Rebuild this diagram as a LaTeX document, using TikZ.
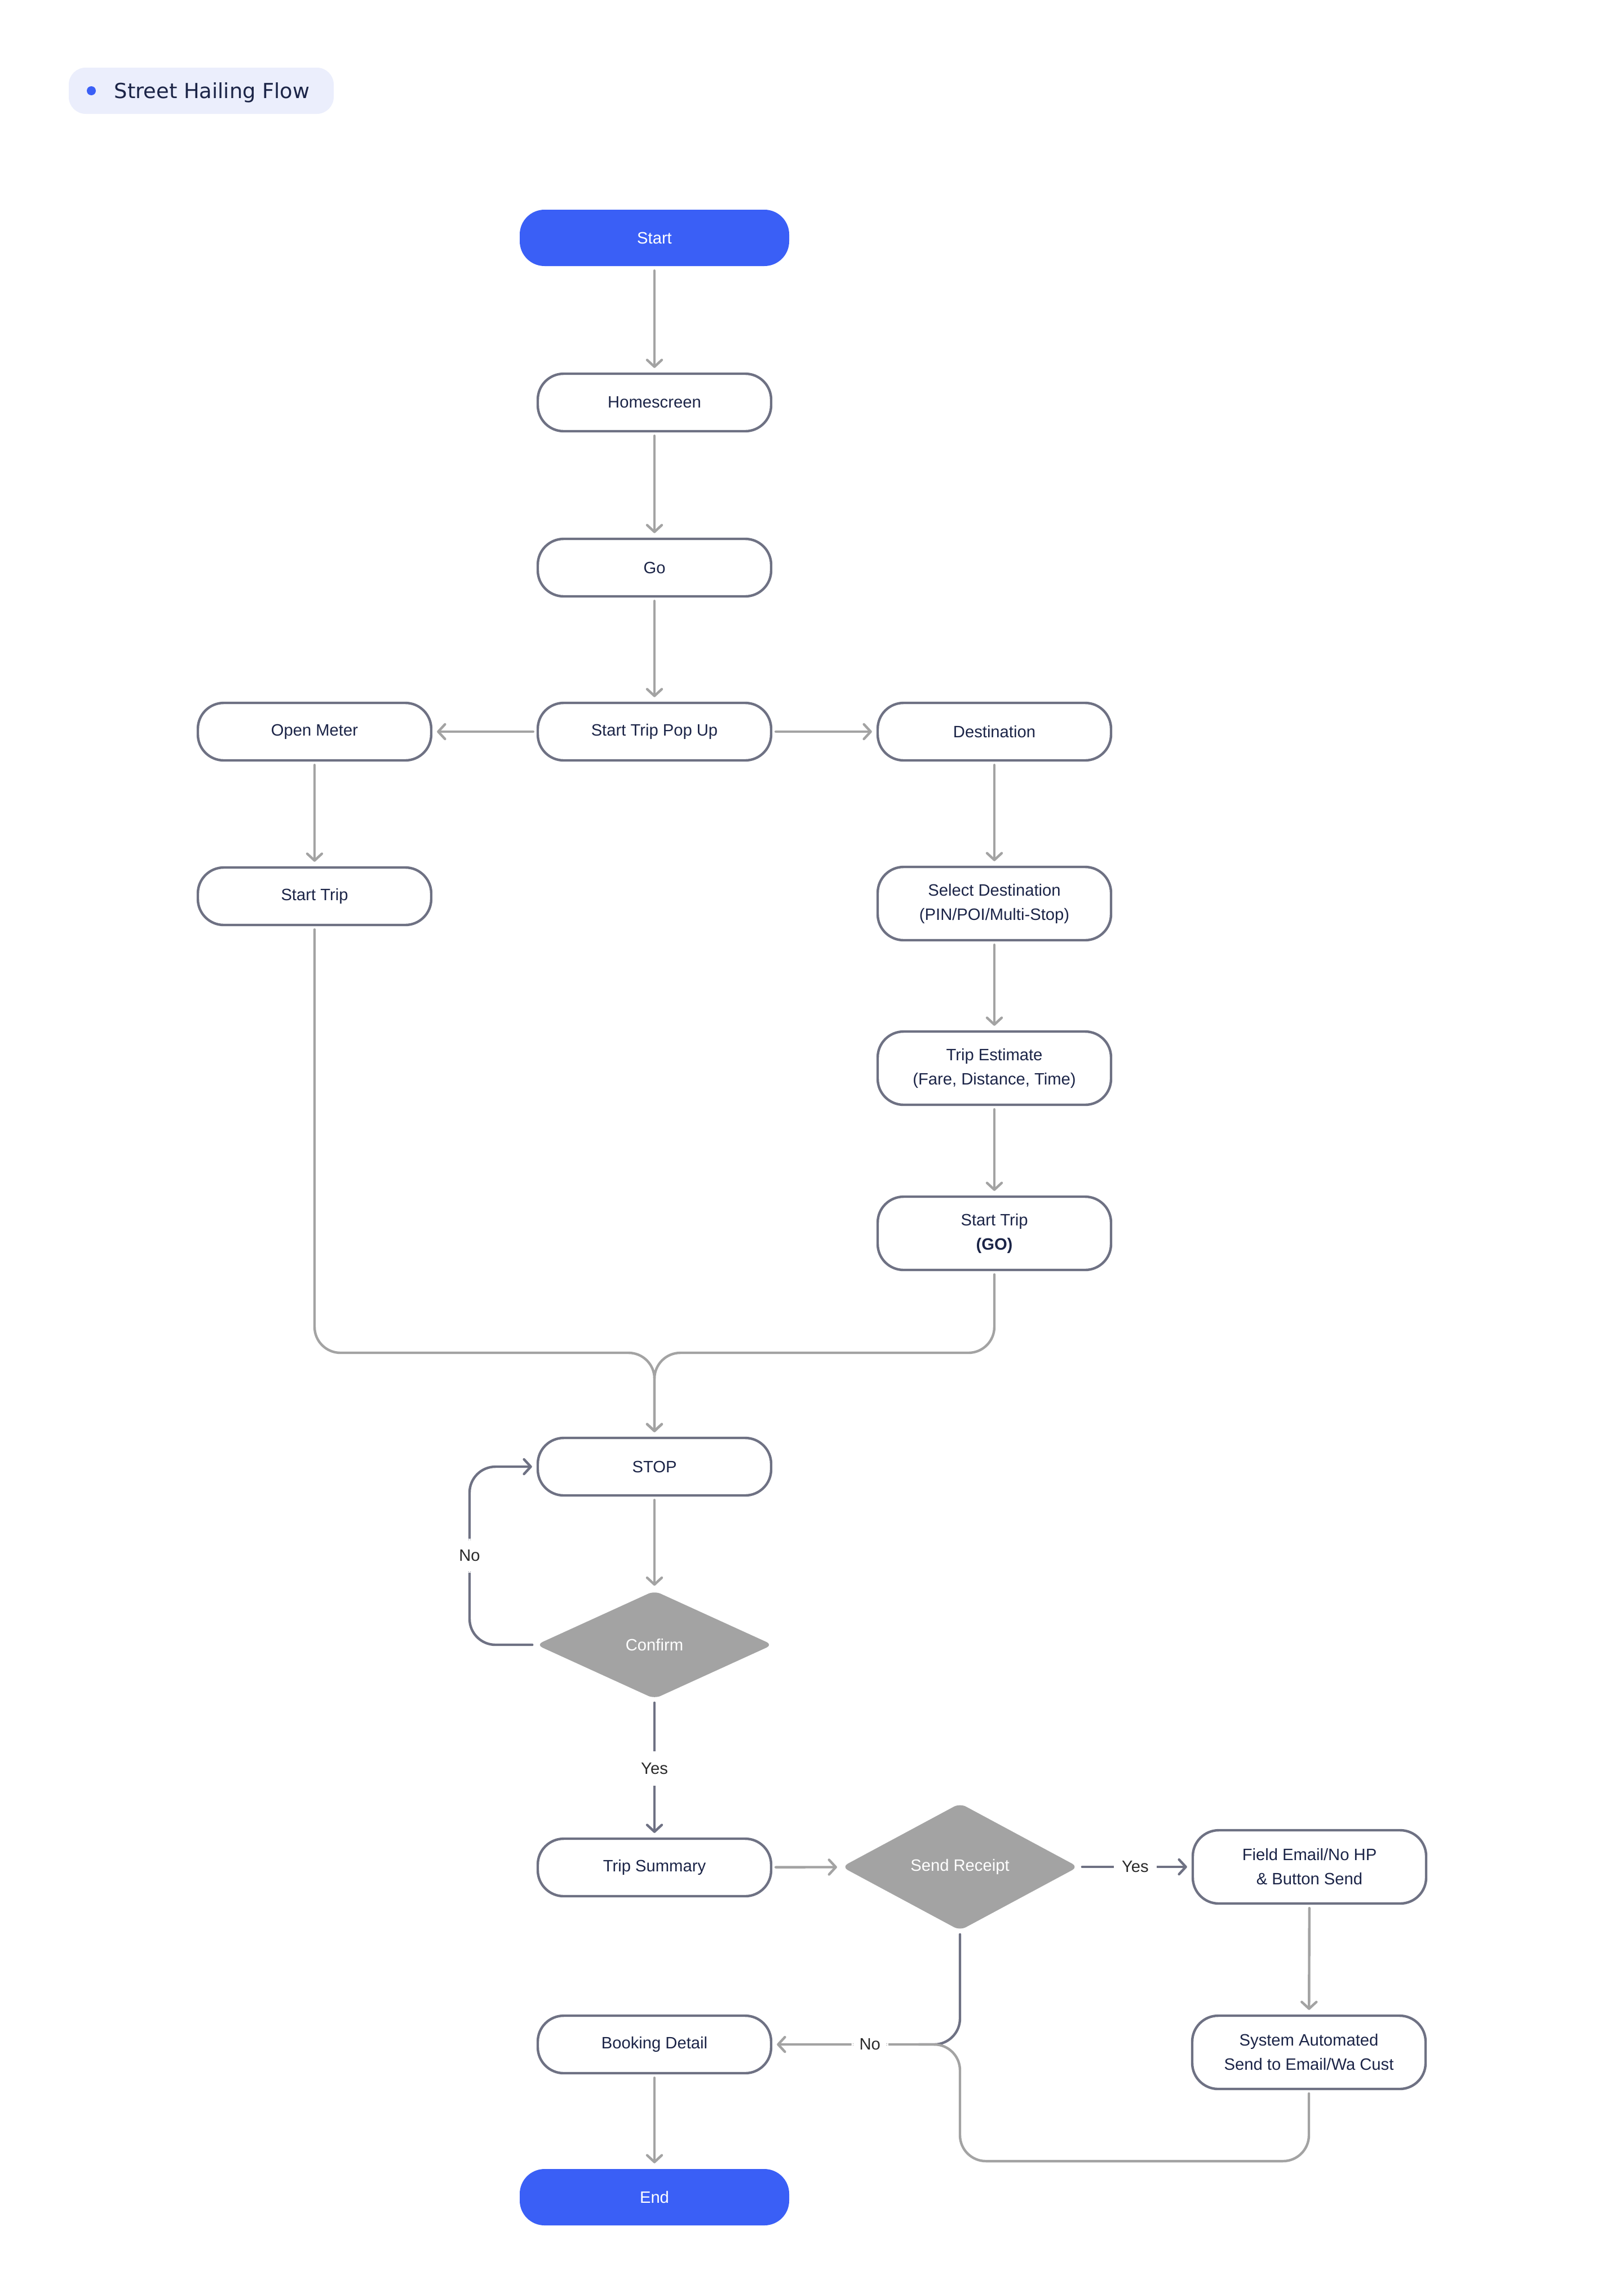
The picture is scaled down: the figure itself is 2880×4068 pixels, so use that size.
\documentclass[tikz,border=0pt]{standalone}
\usepackage{fontspec}
\setmainfont{Liberation Sans}
\newfontfamily\titlefont{DejaVu Sans}
\usetikzlibrary{arrows.meta,shapes.geometric,calc}
\definecolor{blu}{HTML}{3A5FF6}
\definecolor{navy}{HTML}{1B2447}
\definecolor{bord}{HTML}{6E7183}
\definecolor{lgray}{HTML}{A3A3A3}
\definecolor{pillc}{HTML}{EBEEFC}
\definecolor{lbltxt}{HTML}{2A2A2A}
\begin{document}
\begin{tikzpicture}[x=0.25pt,y=-0.25pt,
  box/.style={draw=bord, line width=1.1pt, rounded corners=11.5pt, minimum width=103.5pt,
    minimum height=25.5pt, inner sep=0pt, align=center, text=navy, fill=white,
    font=\fontsize{7.3}{10.75}\selectfont},
  tall/.style={box, minimum height=32.5pt},
  term/.style={box, draw=none, fill=blu, text=white, minimum width=119.5pt, minimum height=25pt, rounded corners=11pt},
  dec/.style={diamond, aspect=2, fill=lgray, draw=none, text=white, inner sep=0pt,
    rounded corners=3pt, minimum width=105pt, font=\fontsize{7.3}{10.75}\selectfont},
  conn/.style={draw=lgray, line width=1.1pt, line cap=round, line join=round,
    -{Straight Barb[length=3pt,width=6.5pt,line cap=round,line join=round]},
    shorten <=1.5pt, shorten >=2pt},
  dconn/.style={conn, draw=bord},
  lbl/.style={fill=white, text=lbltxt, inner xsep=3.5pt, inner ysep=5pt,
    font=\fontsize{7.3}{9}\selectfont}
]
\useasboundingbox (0,0) rectangle (2880,4068);
\fill[white] (0,0) rectangle (2880,4068);

% title pill
\fill[pillc, rounded corners=7.5pt] (122,120) rectangle (592,202);
\fill[blu] (162,161) circle (2pt);
\node[anchor=base west, inner sep=0pt, text=navy, font=\titlefont\fontsize{9.2}{11}\selectfont] (title) at (202,174) {Street Hailing Flow};

% nodes
\node[term] (start) at (1161,422) {Start};
\node[box] (home) at (1161,714) {Homescreen};
\node[box] (go) at (1161,1007) {Go};
\node[box] (popup) at (1161,1298) {Start Trip Pop Up};
\node[box] (openm) at (558,1298) {Open Meter};
\node[box] (dest) at (1764,1298) {Destination};
\node[box] (stl) at (558,1590) {Start Trip};
\node[tall] (seld) at (1764,1603) {Select Destination\\(PIN/POI/Multi-Stop)};
\node[tall] (est) at (1764,1895) {Trip Estimate\\(Fare, Distance, Time)};
\node[tall] (go2) at (1764,2188) {Start Trip\\\textbf{(GO)}};
\coordinate (mrg) at (1161,2400);
\node[box] (stop) at (1161,2602) {STOP};
\node[dec, minimum height=48pt] (confirm) at (1161,2918) {Confirm};
\coordinate (lp) at (833,2760);
\node[box] (tsum) at (1161,3313) {Trip Summary};
\node[dec, minimum height=56.5pt] (send) at (1703,3312) {Send Receipt};
\node[tall] (field) at (2323,3312) {Field Email/No HP\\\& Button Send};
\node[tall] (sys) at (2322,3641) {System Automated\\Send to Email/Wa Cust};
\node[box] (book) at (1161,3627) {Booking Detail};
\node[term] (endn) at (1161,3898) {End};
\coordinate (nj) at (1630,3627);
\coordinate (bl) at (1703,3834);

% connectors
\draw[conn] (start) -- (home);
\draw[conn] (home) -- (go);
\draw[conn] (go) -- (popup);
\draw[conn] (popup) -- (openm);
\draw[conn] (popup) -- (dest);
\draw[conn] (openm) -- (stl);
\draw[conn] (dest) -- (seld);
\draw[conn] (seld) -- (est);
\draw[conn] (est) -- (go2);
\draw[conn, rounded corners=11.5pt] (stl.south) -- (stl.south |- mrg) -- (mrg) -- (stop.north);
\draw[conn, rounded corners=11.5pt] (go2.south) -- (go2.south |- mrg) -- (mrg) -- (stop.north);
\draw[conn] (stop) -- (confirm);
\draw[dconn, rounded corners=11.5pt] (confirm.west) -- (confirm.west -| lp) -- node[lbl]{No} (stop.west -| lp) -- (stop.west);
\draw[dconn] (confirm) -- node[lbl]{Yes} (tsum);
\draw[conn] (tsum) -- (send);
\draw[dconn] (send) -- node[lbl]{Yes} (field);
\draw[conn] (field) -- (sys);
\draw[dconn, -, shorten >=0pt, rounded corners=11.5pt] (send.south) -- (send.south |- book) -- (nj);
\draw[conn, rounded corners=11.5pt] (sys.south) -- (sys.south |- bl) -- (bl) -- (send.south |- book) -- node[lbl, pos=0.48]{No} (book.east);
\draw[conn] (book) -- (endn);
\end{tikzpicture}
\end{document}
